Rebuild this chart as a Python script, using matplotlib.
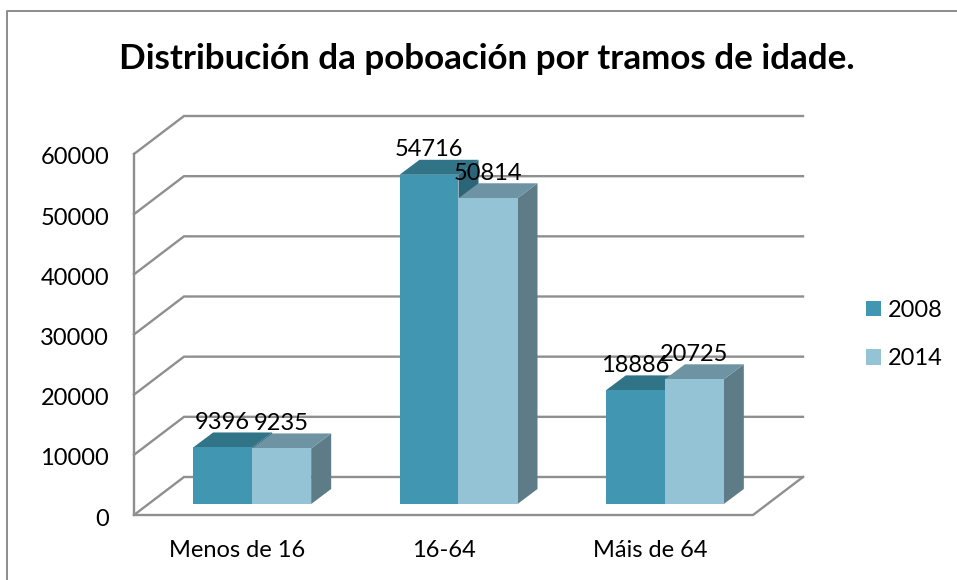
import matplotlib
matplotlib.use("Agg")
import matplotlib.pyplot as plt
from matplotlib.patches import Polygon, Patch
from matplotlib.lines import Line2D
from matplotlib.transforms import Affine2D

categories = ["Menos de 16", "16-64", "Máis de 64"]
years = ["2008", "2014"]
values_2008 = [9396, 54716, 18886]
values_2014 = [9235, 50814, 20725]
yticks = [0, 10000, 20000, 30000, 40000, 50000, 60000]
title = "Distribución da poboación por tramos de idade."

W, H = 957, 580
plt.rcParams["font.family"] = ["Lato", "DejaVu Sans"]
fig = plt.figure(figsize=(W / 100, H / 100), dpi=100)

# plot front plane in pixels
L, R, B, T = 134, 753, 515, 154
ax = fig.add_axes([L / W, (H - B) / H, (R - L) / W, (B - T) / H])
ax.set_xlim(0, 3)
ax.set_ylim(0, 60000)
ax.patch.set_alpha(0)
for s in ax.spines.values():
    s.set_visible(False)

PXX = (R - L) / 3
PXY = (B - T) / 60000
GRID = "#8f8f8f"
WALL_DX, WALL_DY = 50, 38
BASE_DX, BASE_DY = 15, 11
BAR_DX, BAR_DY = 20, 15
BAR_W = 59 / PXX
FS = 17


def off(x, y, dx=0, dy=0):
    return (x + dx / PXX, y + dy / PXY)


# walls and floor
lw = 1.7
for t in yticks:
    p = [off(0, t), off(0, t, WALL_DX, WALL_DY), off(3, t, WALL_DX, WALL_DY)]
    ax.plot(*zip(*p), color=GRID, lw=lw, clip_on=False, zorder=1, solid_joinstyle="miter")
floor = [off(3, 0, WALL_DX, WALL_DY), off(3, 0), off(0, 0), off(0, 60000)]
ax.plot(*zip(*floor), color=GRID, lw=lw, clip_on=False, zorder=1, solid_joinstyle="miter")

# 3-D style bars
series = [
    (values_2008, "#4197B1", "#317488", "#2C6577", -1),
    (values_2014, "#93C3D5", "#6E94A3", "#5E7C88", 0),
]
for i, cat in enumerate(categories):
    centre = i + 0.5
    for j, (vals, front, top, side, k) in enumerate(series):
        v = vals[i]
        x0 = centre + k * BAR_W
        x1 = x0 + BAR_W
        z = 3 + j
        fp = [off(x0, 0, BASE_DX, BASE_DY), off(x1, 0, BASE_DX, BASE_DY),
              off(x1, v, BASE_DX, BASE_DY), off(x0, v, BASE_DX, BASE_DY)]
        d = BASE_DX + BAR_DX, BASE_DY + BAR_DY
        tp = [fp[3], fp[2], off(x1, v, *d), off(x0, v, *d)]
        sp = [fp[1], off(x1, 0, *d), off(x1, v, *d), fp[2]]
        ax.add_patch(Polygon(sp, closed=True, fc=side, ec="none", clip_on=False, zorder=z))
        ax.add_patch(Polygon(tp, closed=True, fc=top, ec="none", clip_on=False, zorder=z))
        ax.add_patch(Polygon(fp, closed=True, fc=front, ec="none", clip_on=False, zorder=z))
        lx, ly = off((x0 + x1) / 2, v, BASE_DX, BASE_DY)
        ax.annotate(str(v), (lx, ly), xytext=(0, 25 * 0.72), textcoords="offset points",
                    ha="center", va="center", fontsize=FS, color="black",
                    zorder=10, annotation_clip=False)

ax.set_yticks(yticks)
ax.set_yticklabels([str(t) for t in yticks], fontsize=FS, color="black")
ax.set_xticks([i + 0.5 for i in range(3)])
ax.set_xticklabels(categories, fontsize=FS, color="black")
ax.tick_params(axis="y", length=0, pad=18)
ax.tick_params(axis="x", length=0, pad=18)
for lab in ax.get_yticklabels():
    lab.set_transform(lab.get_transform() + Affine2D().translate(0, -2))

fig.text(487 / W, 1 - 59 / H, title, ha="center", va="center",
         fontsize=25.2, fontweight="bold", color="black")

handles = [Patch(fc=series[0][1], ec="none"), Patch(fc=series[1][1], ec="none")]
leg = fig.legend(handles, years, loc="upper left", bbox_to_anchor=(866 / W, 1 - 300 / H),
                 frameon=False, fontsize=FS, handlelength=0.635, handleheight=0.635,
                 handletextpad=0.3, labelspacing=1.16, borderpad=0, borderaxespad=0)

# chart frame
fig.add_artist(Line2D([7.5 / W, 7.5 / W, 1], [0, 1 - 10.5 / H, 1 - 10.5 / H],
                      color="#8c8c8c", lw=1.4, transform=fig.transFigure))

fig.savefig("out.png", dpi=100, facecolor="white")
